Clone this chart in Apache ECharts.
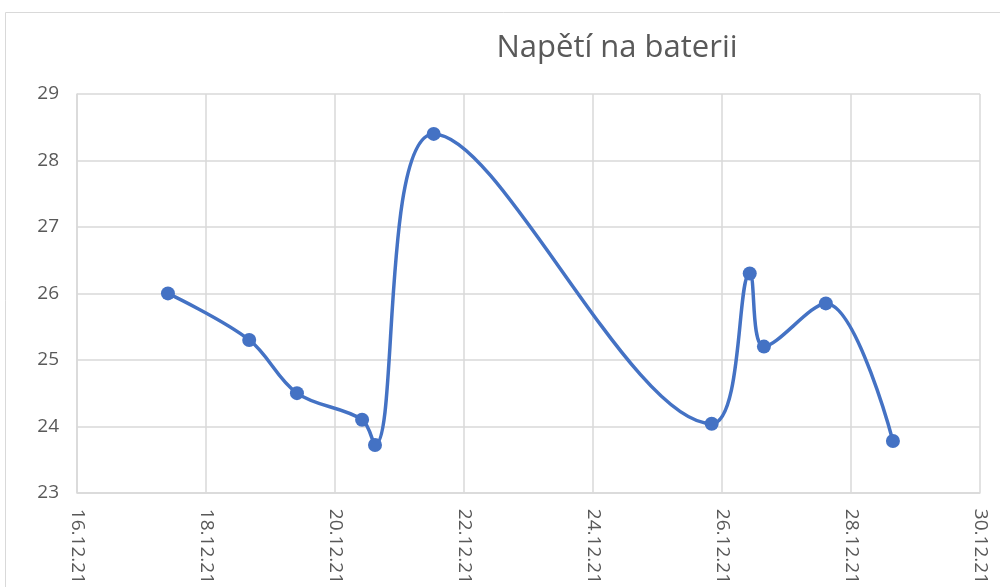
<!DOCTYPE html>
<html>
<head>
<meta charset="utf-8">
<script src="https://cdn.jsdelivr.net/npm/echarts@6/dist/echarts.min.js"></script>
<style>
  html, body { margin: 0; padding: 0; background: #fff; }
  #container { width: 1000px; height: 587px; }
</style>
</head>
<body>
<div id="container"></div>
<script>
// day of December 2021 (fractional = time of day)
var days = [17.41, 18.67, 19.41, 20.42, 20.62, 21.53, 25.84, 26.43, 26.65, 27.61, 28.65];
var voltage = [26.0, 25.3, 24.5, 24.1, 23.72, 28.4, 24.04, 26.3, 25.2, 25.85, 23.78];
var yTicks = [23, 24, 25, 26, 27, 28, 29];
var xTicks = ['16.12.21', '18.12.21', '20.12.21', '22.12.21', '24.12.21', '26.12.21', '28.12.21', '30.12.21'];

var dom = document.getElementById("container");
var myChart = echarts.init(dom);

var points = [];
for (var i = 0; i < days.length; i++) {
    points.push([days[i], voltage[i]]);
}

var option = {
    backgroundColor: '#fff',
    animation: false,
    title: {
        text: 'Napětí na baterii',
        left: 612,
        textAlign: 'center',
        top: 28,
        textStyle: {
            color: '#595959',
            fontSize: 31,
            fontWeight: 'normal',
            fontFamily: 'Open Sans'
        }
    },
    graphic: [{
        type: 'rect',
        shape: { x: 5.5, y: 12.5, width: 1100, height: 700 },
        style: { fill: 'none', stroke: '#d9d9d9', lineWidth: 1 },
        silent: true
    }],
    grid: {
        left: 77,
        right: 20,
        top: 94,
        bottom: 94
    },
    xAxis: {
        type: 'value',
        min: 16,
        max: 30,
        interval: 2,
        axisLine: { show: true, lineStyle: { color: '#d9d9d9', width: 1.5 } },
        axisTick: { show: false },
        splitLine: { show: true, lineStyle: { color: '#d9d9d9', width: 1.5 } },
        axisLabel: {
            rotate: -90,
            margin: 16,
            color: '#595959',
            fontSize: 19,
            fontFamily: 'Open Sans',
            formatter: function (v) {
                return xTicks[Math.round((v - 16) / 2)];
            }
        }
    },
    yAxis: {
        type: 'value',
        min: yTicks[0],
        max: yTicks[yTicks.length - 1],
        interval: 1,
        axisLine: { show: true, lineStyle: { color: '#d9d9d9', width: 1.5 } },
        axisTick: { show: false },
        splitLine: { show: true, lineStyle: { color: '#d9d9d9', width: 1.5 } },
        axisLabel: {
            margin: 18,
            color: '#595959',
            fontSize: 19,
            fontFamily: 'Open Sans'
        }
    },
    series: [{
        name: 'Napětí',
        type: 'line',
        smooth: 0.35,
        data: points,
        symbol: 'circle',
        symbolSize: 14,
        lineStyle: { color: '#4472C4', width: 3.5 },
        itemStyle: { color: '#4472C4' }
    }]
};

myChart.setOption(option, true);
</script>
</body>
</html>
